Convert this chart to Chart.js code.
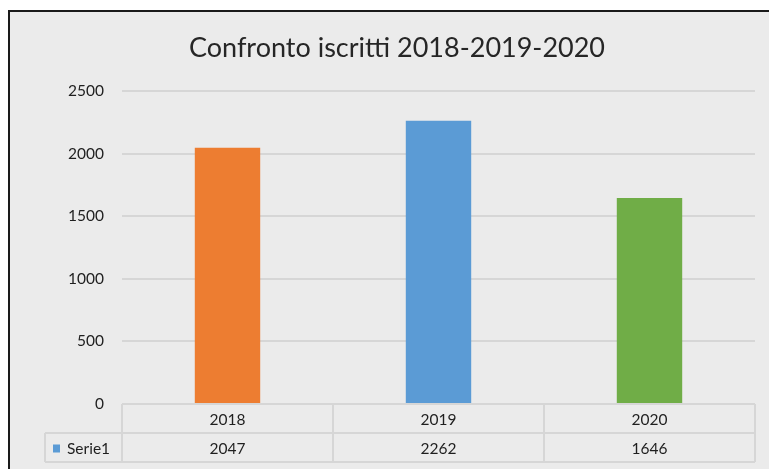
<!DOCTYPE html>
<html>
<head>
<meta charset="utf-8">
<script src="https://cdn.jsdelivr.net/npm/chart.js@4"></script>
<style>
  body { margin: 0; background: #fff; }
  #frame {
    position: absolute; left: 8px; top: 10px; width: 780px; height: 470px;
    border: 2px solid #1a1a1a; background: #ebebeb;
  }
  #wrap { position: absolute; left: 10px; top: 12px; width: 759px; height: 457px; }
</style>
</head>
<body>
<div id="frame"></div>
<div id="wrap"><canvas id="chart"></canvas></div>
<script>
// data
const title = "Confronto iscritti 2018-2019-2020";
const categories = ["2018", "2019", "2020"];
const seriesName = "Serie1";
const values = [2047, 2262, 1646];
const barColors = ["#ED7D31", "#5B9BD5", "#70AD47"];
const legendColor = "#5B9BD5";

const fontFamily = "Lato, 'Open Sans', sans-serif";

// title + Excel-like data table under the bars
const dataTable = {
    id: "dataTable",
    afterDraw(chart) {
        const ctx = chart.ctx;
        const area = chart.chartArea;
        const rowH = 29;
        const catW = (area.right - area.left) / categories.length;
        const legendLeft = 35;
        const top = area.bottom;

        ctx.save();
        ctx.fillStyle = "#262626";
        ctx.font = "27px " + fontFamily;
        ctx.textAlign = "center";
        ctx.textBaseline = "middle";
        ctx.fillText(title, 387, 36);

        ctx.strokeStyle = "#d6d6d6";
        ctx.lineWidth = 2;
        ctx.beginPath();
        // horizontal lines
        ctx.moveTo(area.left, top); ctx.lineTo(area.right, top);
        ctx.moveTo(legendLeft, top + rowH); ctx.lineTo(area.right, top + rowH);
        ctx.moveTo(legendLeft, top + rowH * 2); ctx.lineTo(area.right, top + rowH * 2);
        // vertical lines
        ctx.moveTo(legendLeft, top + rowH); ctx.lineTo(legendLeft, top + rowH * 2);
        for (let i = 0; i <= categories.length; i++) {
            const x = area.left + catW * i;
            ctx.moveTo(x, top); ctx.lineTo(x, top + rowH * 2);
        }
        ctx.stroke();

        ctx.fillStyle = "#1f1f1f";
        ctx.font = "15.5px " + fontFamily;
        categories.forEach((c, i) => {
            const x = chart.scales.x.getPixelForValue(i);
            ctx.fillText(c, x, top + rowH / 2 + 1);
            ctx.fillText(String(values[i]), x, top + rowH * 1.5 + 1);
        });

        // legend key + series name
        ctx.fillStyle = legendColor;
        ctx.fillRect(legendLeft + 8, top + rowH * 1.5 - 3, 7, 8);
        ctx.fillStyle = "#1f1f1f";
        ctx.textAlign = "left";
        ctx.fillText(seriesName, legendLeft + 22, top + rowH * 1.5 + 1);
        ctx.restore();
    }
};

new Chart(document.getElementById("chart"), {
    type: "bar",
    data: {
        labels: categories,
        datasets: [{
            label: seriesName,
            data: values,
            backgroundColor: barColors,
            categoryPercentage: 1,
            barPercentage: 0.31
        }]
    },
    options: {
        responsive: true,
        maintainAspectRatio: false,
        animation: false,
        layout: { padding: { left: 0, right: 14, bottom: 65, top: 79 } },
        plugins: {
            legend: { display: false },
            tooltip: { enabled: false },
            title: { display: false }
        },
        scales: {
            x: { display: false },
            y: {
                min: 0,
                max: 2500,
                afterFit: s => { s.width = 112; },
                ticks: {
                    stepSize: 500,
                    padding: 18,
                    color: "#1f1f1f",
                    font: { family: fontFamily, size: 15.5 },
                    callback: v => String(v)
                },
                grid: { color: "#d6d6d6", lineWidth: 2, drawTicks: false },
                border: { display: false }
            }
        }
    },
    plugins: [dataTable]
});
</script>
</body>
</html>
